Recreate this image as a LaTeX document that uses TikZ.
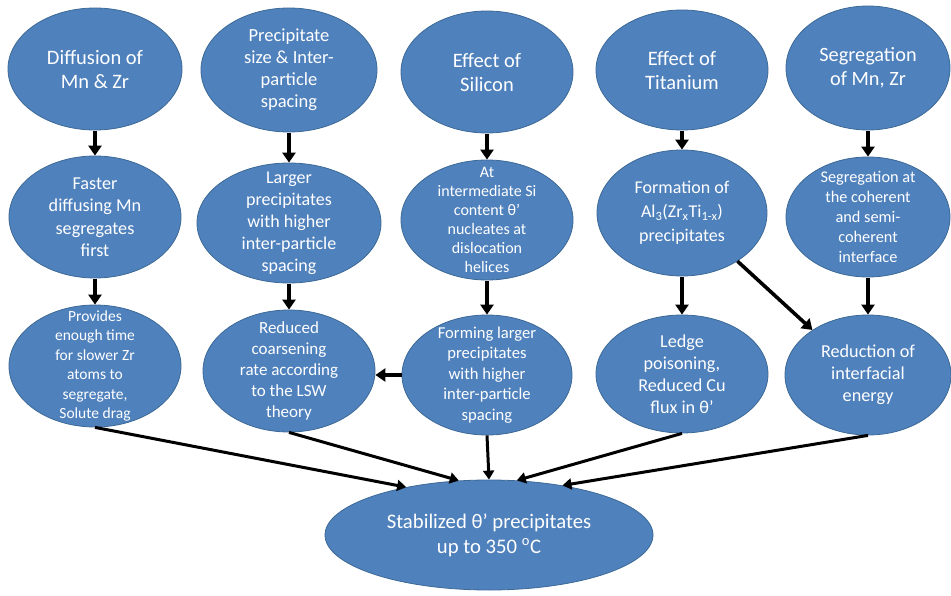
\documentclass[tikz,border=0pt]{standalone}
\usepackage{fontspec}
\setmainfont{Carlito}
\usetikzlibrary{shapes.geometric,arrows.meta}
\definecolor{nodeblue}{RGB}{79,129,189}
\definecolor{nodeedge}{RGB}{60,105,150}
\tikzset{
  blob/.style={ellipse, fill=nodeblue, draw=nodeedge, line width=0.8pt, inner sep=0pt},
  lbl/.style={text=white, align=center, inner sep=0pt},
  arr/.style={line width=3.6pt, -{Triangle[width=13pt,length=10pt]}},
  arrthin/.style={line width=3pt, -{Triangle[width=11pt,length=9pt]}},
}
\newcommand{\fs}[2]{\fontsize{#1}{#2}\selectfont}
\begin{document}
\begin{tikzpicture}[x=1pt,y=-1pt]
\path[use as bounding box] (0,0) rectangle (951,596);
% row 1
\node[blob, minimum width=174pt, minimum height=122pt] (e1) at (95,69) {};
\node[blob, minimum width=176pt, minimum height=124pt] (e2) at (289,70) {};
\node[blob, minimum width=172pt, minimum height=122pt] (e3) at (487,72) {};
\node[blob, minimum width=172pt, minimum height=120pt] (e4) at (682,70) {};
\node[blob, minimum width=164pt, minimum height=124pt] (e5) at (868,68) {};
% row 2
\node[blob, minimum width=172pt, minimum height=122pt] (f1) at (95,217) {};
\node[blob, minimum width=184pt, minimum height=120pt] (f2) at (289,223) {};
\node[blob, minimum width=172pt, minimum height=120pt] (f3) at (487,220) {};
\node[blob, minimum width=170pt, minimum height=126pt] (f4) at (682,213) {};
\node[blob, minimum width=164pt, minimum height=120pt] (f5) at (868,217) {};
% row 3
\node[blob, minimum width=172pt, minimum height=122pt] (g1) at (95,366) {};
\node[blob, minimum width=172pt, minimum height=122pt] (g2) at (289,371) {};
\node[blob, minimum width=170pt, minimum height=120pt] (g3) at (487,375) {};
\node[blob, minimum width=172pt, minimum height=118pt] (g4) at (682,374) {};
\node[blob, minimum width=166pt, minimum height=120pt] (g5) at (868,375) {};
% bottom
\node[blob, minimum width=328pt, minimum height=110pt] (h) at (489,535) {};

% labels
\node[lbl, font=\fs{20.5}{24}] (e1t) at (e1) {Diffusion of\\Mn \& Zr};
\node[lbl, font=\fs{18.5}{22}] (e2t) at (e2) {Precipitate\\size \& Inter-\\particle\\spacing};
\node[lbl, font=\fs{20.5}{24}] (e3t) at (e3) {Effect of\\Silicon};
\node[lbl, font=\fs{20.5}{24}] (e4t) at (e4) {Effect of\\Titanium};
\node[lbl, font=\fs{20.3}{24}] (e5t) at (e5) {Segregation\\of Mn, Zr};

\node[lbl, font=\fs{18.2}{22.5}] (f1t) at (f1) {Faster\\diffusing Mn\\segregates\\first};
\node[lbl, font=\fs{18}{22}] (f2t) at (f2) {Larger\\precipitates\\with higher\\inter-particle\\spacing};
\node[lbl, font=\fs{16}{19}] (f3t) at (f3) {At\\intermediate Si\\content θ'\\nucleates at\\dislocation\\helices};
\node[lbl, font=\fs{18}{24}] (f4t) at (f4) {Formation of\\Al\textsubscript{3}(Zr\textsubscript{x}Ti\textsubscript{1-x})\\precipitates};
\node[lbl, font=\fs{16.3}{20}] (f5t) at (f5) {Segregation at\\the coherent\\and semi-\\coherent\\interface};

\node[lbl, font=\fs{15.5}{19.5}] (g1t) at (g1) {Provides\\enough time\\for slower Zr\\atoms to\\segregate,\\Solute drag};
\node[lbl, font=\fs{17}{21}] (g2t) at (g2) {Reduced\\coarsening\\rate according\\to the LSW\\theory};
\node[lbl, font=\fs{16.6}{20.4}] (g3t) at (g3) {Forming larger\\precipitates\\with higher\\inter-particle\\spacing};
\node[lbl, font=\fs{18.2}{22}] (g4t) at (g4) {Ledge\\poisoning,\\Reduced Cu\\flux in θ’};
\node[lbl, font=\fs{18.2}{22}] (g5t) at (g5) {Reduction of\\interfacial\\energy};
\node[lbl, font=\fs{20.7}{25}] (ht) at (h) {Stabilized θ’ precipitates\\up to 350 \textsuperscript{o}C};

% arrows between rows
\foreach \a/\b in {e1/f1,e2/f2,e3/f3,e4/f4,e5/f5,f1/g1,f2/g2,f3/g3,f4/g4,f5/g5}
  \draw[arr] ([yshift=-1pt]\a.south) -- (\b.north);
\draw[arr] (g3.west) -- (g3.west -| g2.east);
\draw[arr] (f4.-41) -- (g5.141);
% to bottom
\draw[arrthin] (g1.south) -- (h.150);
\draw[arrthin] (g2.south) -- (h.119);
\draw[arrthin] (g3.south) -- (h.north);
\draw[arrthin] (g4.south) -- (h.63);
\draw[arrthin] (g5.south) -- (h.34);
\end{tikzpicture}
\end{document}
